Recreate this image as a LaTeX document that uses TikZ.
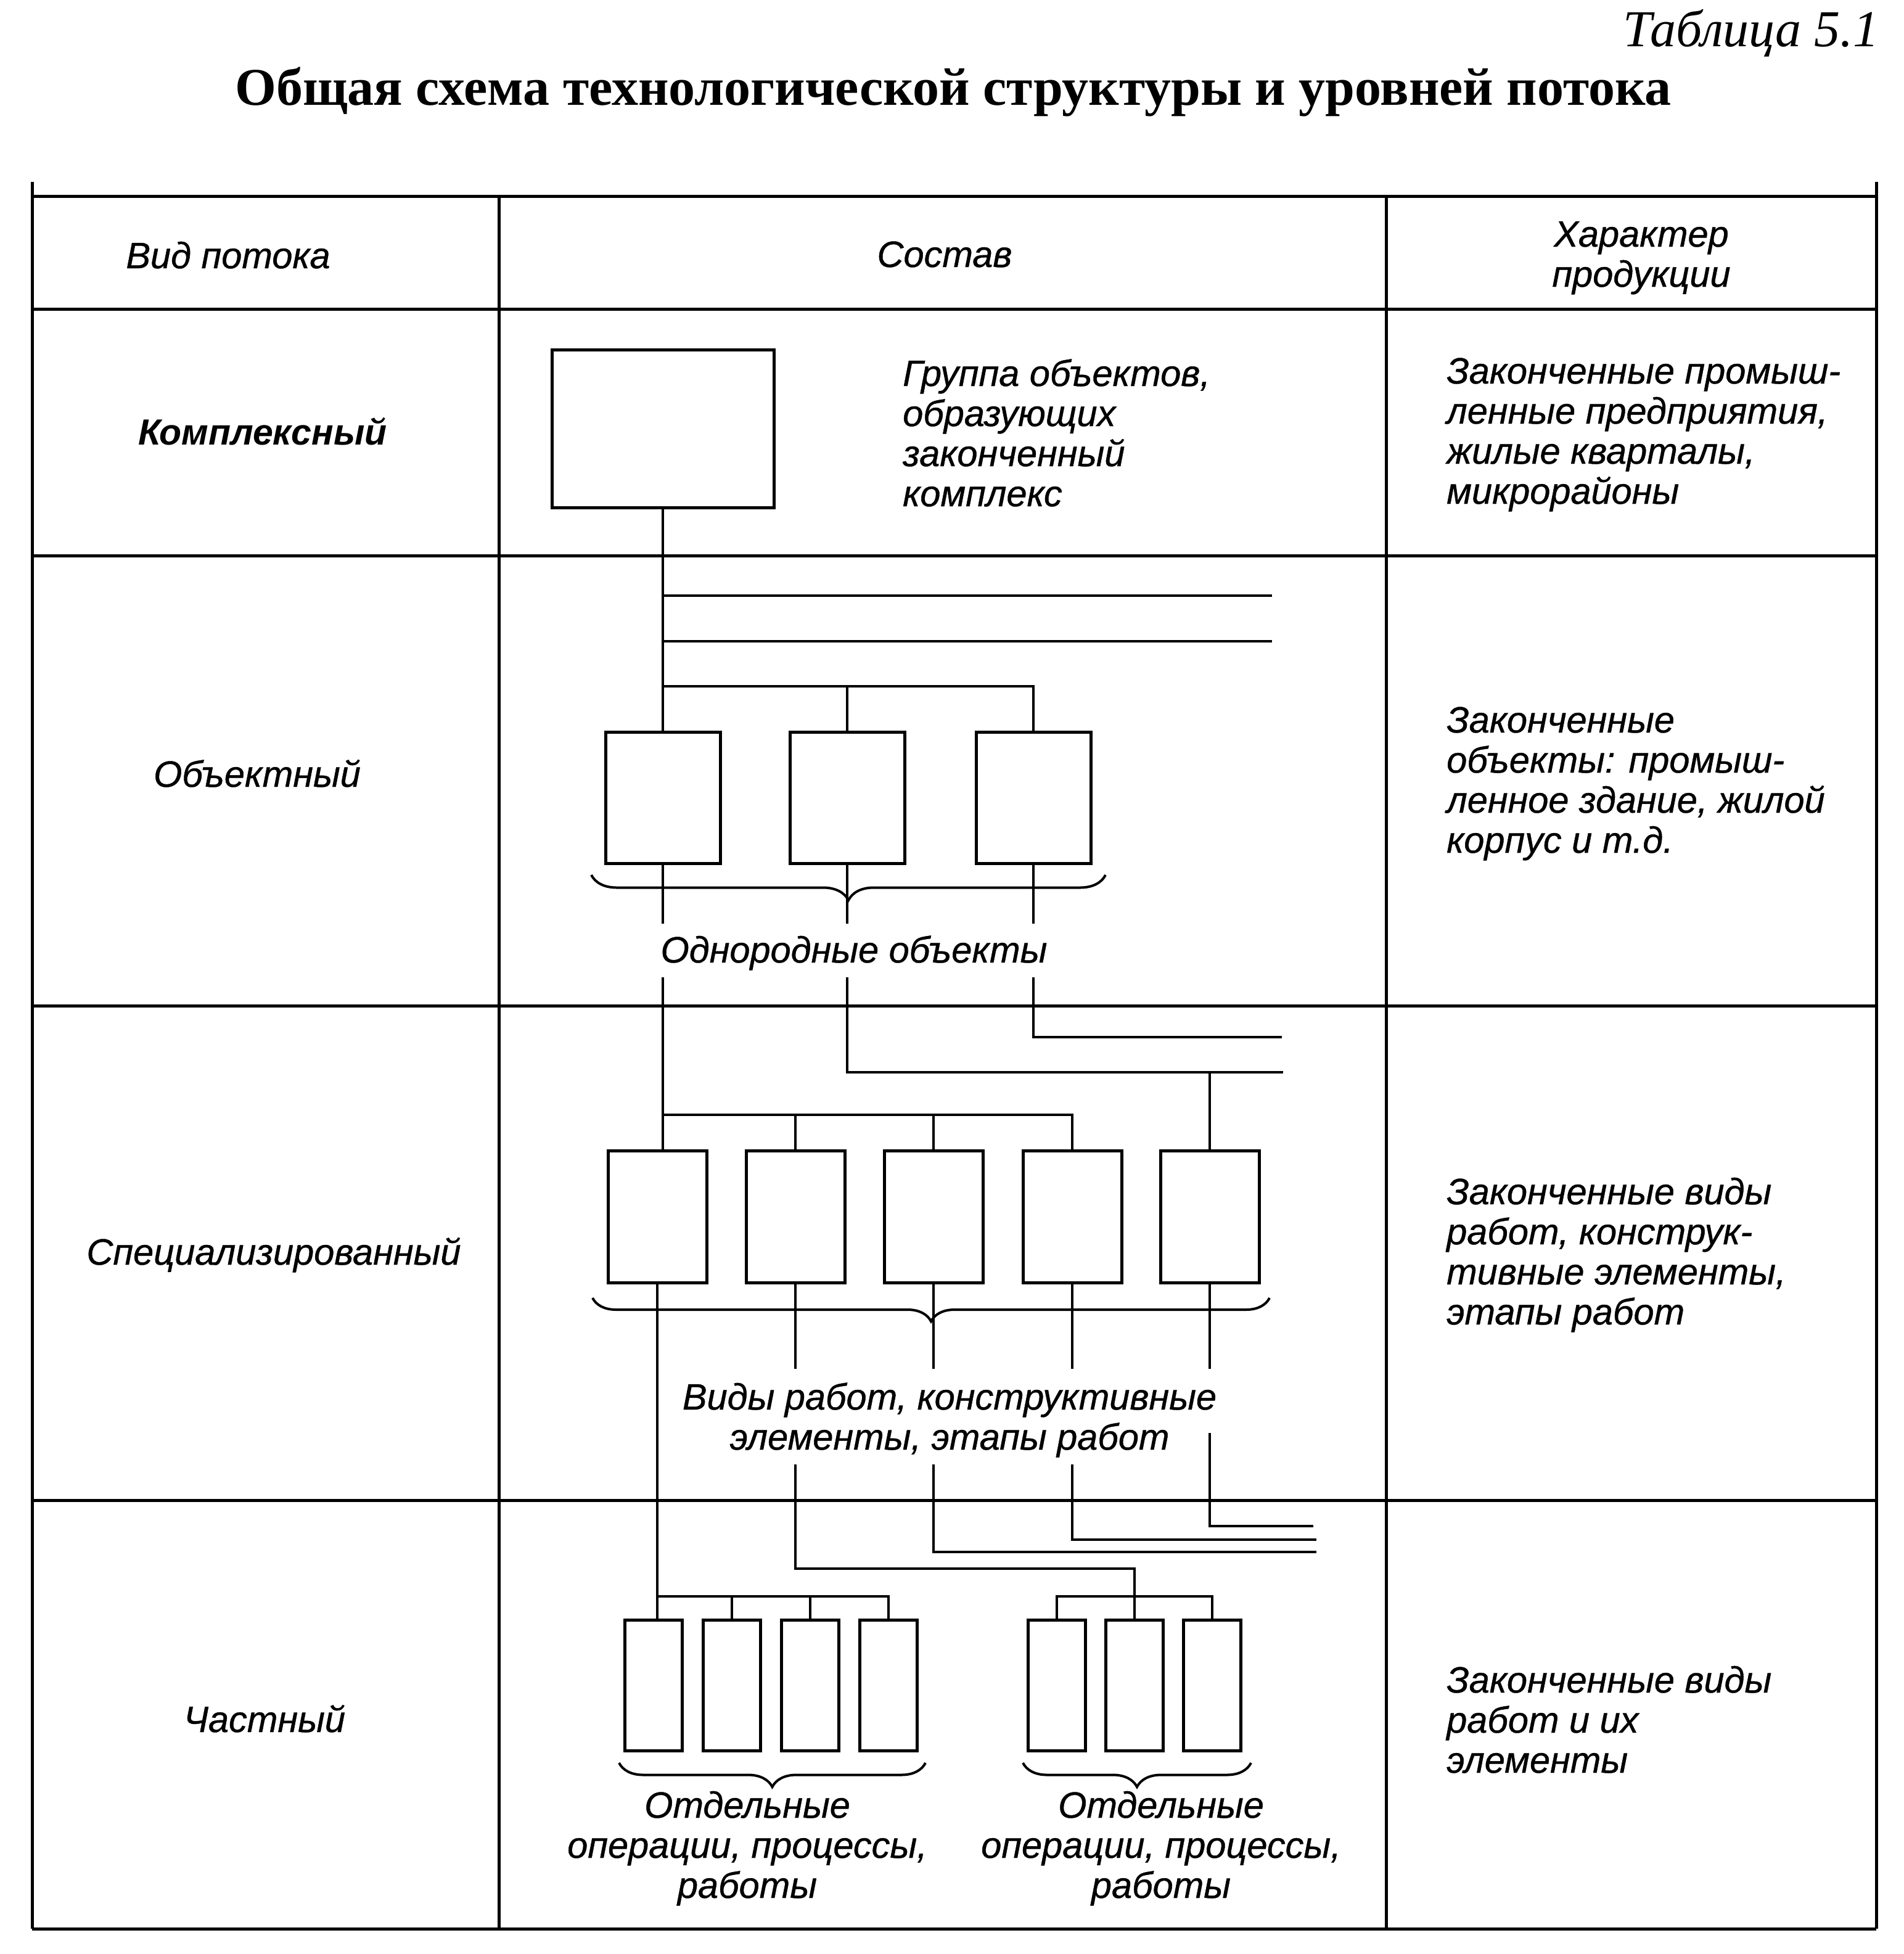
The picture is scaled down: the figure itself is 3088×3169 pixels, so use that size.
\documentclass[tikz,border=0pt]{standalone}
\usepackage{fontspec}
\setmainfont{Liberation Sans}
\newfontfamily\bodyfont{Liberation Sans}[FakeBold=0.7]
\newfontfamily\serifT{Liberation Serif}
\usetikzlibrary{decorations.pathreplacing}
\newcommand\mlt[2][l]{\begin{tabular}[t]{@{}#1@{}}#2\end{tabular}}
\begin{document}
\begin{tikzpicture}[x=1pt,y=-1pt,
  tbl/.style={line width=5pt},
  conn/.style={line width=4pt},
  box/.style 2 args={draw,line width=5pt,inner sep=0pt,minimum width=#1,minimum height=#2},
  brc/.style={decorate,decoration={brace,mirror,amplitude=#1},line width=4pt},
  txt/.style={font=\bodyfont\fontsize{59.5}{65}\selectfont\itshape,inner sep=0pt},
  hdr/.style={txt,anchor=base},
  lbl/.style={txt,anchor=base},
  rtxt/.style={txt,anchor=base west}]
\useasboundingbox (0,0) rectangle (3088,3169);
% ---- titles
\node[font=\serifT\itshape\fontsize{84}{94}\selectfont,inner sep=0pt,anchor=base east] (tabno) at (3048,75) {Таблица 5.1};
\node[font=\serifT\bfseries\fontsize{86}{96}\selectfont,inner sep=0pt,anchor=base] (title) at (1546,170) {Общая схема технологической структуры и уровней потока};
% ---- table grid
\draw[tbl] (52,318) -- (3043,318);
\draw[tbl] (52,501) -- (3043,501);
\draw[tbl] (52,901) -- (3043,901);
\draw[tbl] (52,1631) -- (3043,1631);
\draw[tbl] (52,2433) -- (3043,2433);
\draw[tbl] (52,3128) -- (3043,3128);
\draw[tbl] (52,295) -- (52,3128);
\draw[tbl] (809,318) -- (809,3128);
\draw[tbl] (2248,318) -- (2248,3128);
\draw[tbl] (3043,295) -- (3043,3128);
% ---- header
\node[hdr] (h1) at (370,435) {Вид потока};
\node[hdr] (h2) at (1532,433) {Состав};
\node[hdr] (h3) at (2662,400) {\mlt[c]{Характер\\продукции}};
% ---- left labels
\node[lbl,font=\fontsize{59}{65}\selectfont\bfseries\itshape] (l1) at (426,721) {Комплексный};
\node[lbl] (l2) at (417,1276) {Объектный};
\node[lbl] (l3) at (444,2051) {Специализированный};
\node[lbl] (l4) at (429,2809) {Частный};
% ---- right column
\node[rtxt] (r1) at (2346,622) {\mlt{Законченные промыш-\\ленные предприятия,\\жилые кварталы,\\микрорайоны}};
\node[rtxt] (r2) at (2346,1188) {\mlt{Законченные\\объекты: промыш-\\ленное здание, жилой\\корпус и т.д.}};
\node[rtxt] (r3) at (2346,1953) {\mlt{Законченные виды\\работ, конструк-\\тивные элементы,\\этапы работ}};
\node[rtxt] (r4) at (2346,2745) {\mlt{Законченные виды\\работ и их\\элементы}};
% ---- row 1
\node[box={360}{256}] (k) at (1075,695) {};
\node[rtxt] (kt) at (1464,626) {\mlt{Группа объектов,\\образующих\\законченный\\комплекс}};
% ---- row 2 boxes
\node[box={186}{213}] (o1) at (1075,1294) {};
\node[box={186}{213}] (o2) at (1374,1294) {};
\node[box={186}{213}] (o3) at (1676,1294) {};
% ---- row 3 boxes
\node[box={160}{214}] (s1) at (1066,1973) {};
\node[box={160}{214}] (s2) at (1290,1973) {};
\node[box={160}{214}] (s3) at (1514,1973) {};
\node[box={160}{214}] (s4) at (1739,1973) {};
\node[box={160}{214}] (s5) at (1962,1973) {};
% ---- row 4 boxes
\node[box={93}{212}] (p1) at (1060,2733) {};
\node[box={93}{212}] (p2) at (1187,2733) {};
\node[box={93}{212}] (p3) at (1314,2733) {};
\node[box={93}{212}] (p4) at (1441,2733) {};
\node[box={93}{212}] (q1) at (1714,2733) {};
\node[box={93}{212}] (q2) at (1840,2733) {};
\node[box={93}{212}] (q3) at (1966,2733) {};
% ---- coordinates
\coordinate (h1e) at (2063,966);
\coordinate (h2e) at (2063,1040);
\coordinate (b1) at (0,1113);
\coordinate (gapA) at (0,1498);
\coordinate (gapB) at (0,1585);
\coordinate (h3e) at (2079,1682);
\coordinate (h4e) at (2081,1739);
\coordinate (b3) at (0,1808);
\coordinate (gapC) at (0,2220);
\coordinate (gapD) at (0,2375);
\coordinate (gapE) at (0,2324);
\coordinate (h5e) at (2130,2475);
\coordinate (h6e) at (2135,2497);
\coordinate (h7e) at (2135,2517);
\coordinate (h8) at (0,2544);
\coordinate (b4) at (0,2589);
% ---- connectors row 1 -> row 2
\draw[conn] (k.south) -- (o1.north);
\draw[conn] (k.south |- h1e) -- (h1e);
\draw[conn] (k.south |- h2e) -- (h2e);
\draw[conn] (o1.north |- b1) -- (o3.north |- b1) -- (o3.north);
\draw[conn] (o2.north |- b1) -- (o2.north);
% ---- below row 2
\draw[conn] (o1.south) -- (o1.south |- gapA);
\draw[conn] (o2.south) -- (o2.south |- gapA);
\draw[conn] (o3.south) -- (o3.south |- gapA);
\draw[conn] (o1.south |- gapB) -- (o1.south |- s1.north);
\draw[conn] (o2.south |- gapB) -- (o2.south |- h4e) -- (h4e);
\draw[conn] (o3.south |- gapB) -- (o3.south |- h3e) -- (h3e);
\draw[conn] (s5.north |- h4e) -- (s5.north);
\draw[conn] (o1.south |- b3) -- (s4.north |- b3) -- (s4.north);
\draw[conn] (s2.north |- b3) -- (s2.north);
\draw[conn] (s3.north |- b3) -- (s3.north);
% ---- below row 3
\draw[conn] (s1.south) -- (s1.south |- p1.north);
\draw[conn] (s2.south) -- (s2.south |- gapC);
\draw[conn] (s3.south) -- (s3.south |- gapC);
\draw[conn] (s4.south) -- (s4.south |- gapC);
\draw[conn] (s5.south) -- (s5.south |- gapC);
\draw[conn] (s2.south |- gapD) -- (s2.south |- h8) -- (q2.north |- h8) -- (q2.north);
\draw[conn] (s3.south |- gapD) -- (s3.south |- h7e) -- (h7e);
\draw[conn] (s4.south |- gapD) -- (s4.south |- h6e) -- (h6e);
\draw[conn] (s5.south |- gapE) -- (s5.south |- h5e) -- (h5e);
% ---- row 4 buses
\draw[conn] (s1.south |- b4) -- (p4.north |- b4) -- (p4.north);
\draw[conn] (p2.north |- b4) -- (p2.north);
\draw[conn] (p3.north |- b4) -- (p3.north);
\draw[conn] (q1.north) -- (q1.north |- b4) -- (q3.north |- b4) -- (q3.north);
% ---- braces
\coordinate (br1a) at (959,1419);  \coordinate (br1b) at (1793,1419);
\coordinate (br2a) at (961,2105);  \coordinate (br2b) at (2059,2105);
\coordinate (br3a) at (1004,2859); \coordinate (br3b) at (1501,2859);
\coordinate (br4a) at (1659,2859); \coordinate (br4b) at (2029,2859);
\draw[brc=41] (br1a) -- (br1b);
\draw[brc=38] (br2a) -- (br2b);
\draw[brc=39] (br3a) -- (br3b);
\draw[brc=39] (br4a) -- (br4b);
% ---- brace labels
\node[lbl] (t2) at (1385,1561) {Однородные объекты};
\node[lbl] (t3) at (1540,2286) {\mlt[c]{Виды работ, конструктивные\\элементы, этапы работ}};
\node[lbl] (t4a) at (1212,2948) {\mlt[c]{Отдельные\\операции, процессы,\\работы}};
\node[lbl] (t4b) at (1883,2948) {\mlt[c]{Отдельные\\операции, процессы,\\работы}};
\end{tikzpicture}
\end{document}
